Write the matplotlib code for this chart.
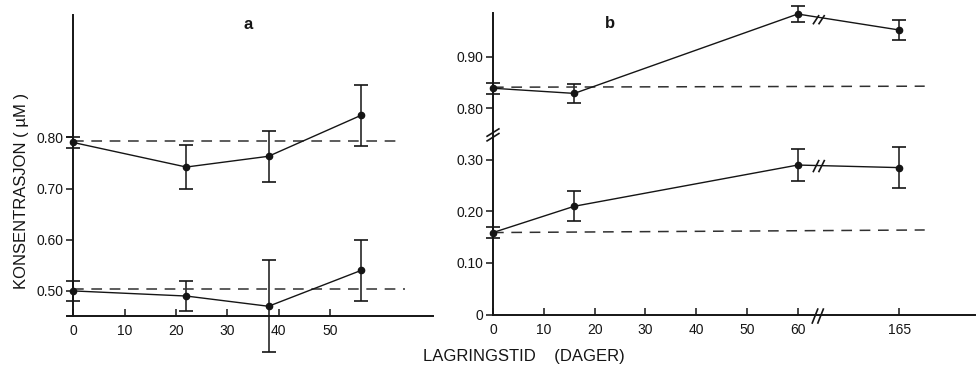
import matplotlib
matplotlib.use("Agg")
import matplotlib.pyplot as plt

plt.rcParams["font.family"] = ["Liberation Sans Narrow", "Liberation Sans", "DejaVu Sans"]

# panel a: storage time (days), two concentration series with sd
xa = [0, 22, 38, 56]
a_hi = [0.790, 0.742, 0.763, 0.843]
a_hi_err = [0.010, 0.043, 0.050, 0.060]
a_lo = [0.500, 0.490, 0.470, 0.540]
a_lo_err = [0.020, 0.030, 0.090, 0.060]
a_ref_x = [[0, 63.6], [0, 64.6]]
a_ref_y = [[0.793, 0.793], [0.503, 0.503]]
a_yticks = [0.50, 0.60, 0.70, 0.80]
a_xticks = [0, 10, 20, 30, 40, 50]

# panel b: x axis broken after 60 days, y axis broken between 0.30 and 0.80
xb = [0, 16, 60, 80]          # 80 = position of 165 d on the broken axis
b_hi = [0.839, 0.829, 0.983, 0.952]
b_hi_err = [0.011, 0.019, 0.015, 0.020]
b_lo = [0.159, 0.210, 0.290, 0.285]
b_lo_err = [0.010, 0.029, 0.031, 0.040]
b_ref_x = [0, 85]
b_ref_hi = [0.841, 0.843]
b_ref_lo = [0.159, 0.164]
B_SHIFT = 0.40                # upper block drawn 0.40 lower
b_xticks = [0, 10, 20, 30, 40, 50, 60, 80]
b_xlabels = ["0", "10", "20", "30", "40", "50", "60", "165"]
b_yvals = [0, 0.10, 0.20, 0.30, 0.80, 0.90]
b_ylabels = ["0", "0.10", "0.20", "0.30", "0.80", "0.90"]

INK = "#151515"
W, H = 980, 372
fig = plt.figure(figsize=(9.8, 3.72), dpi=100)


def rect(l, r, t, b):
    return [l / W, 1 - b / H, (r - l) / W, (b - t) / H]


def style(ax):
    for s in ("top", "right"):
        ax.spines[s].set_visible(False)
    for s in ("left", "bottom"):
        ax.spines[s].set_linewidth(1.4)
        ax.spines[s].set_color(INK)
    ax.tick_params(axis="x", direction="in", length=5, width=1.1, pad=6,
                   labelsize=10, colors=INK)
    ax.tick_params(axis="y", direction="out", length=5, width=1.1, pad=2,
                   labelsize=10, colors=INK)


def series(ax, x, y, e):
    c = ax.errorbar(x, y, yerr=e, fmt="o-", color=INK, lw=1.0, ms=4.5,
                    capsize=5, capthick=1.2, elinewidth=1.1)
    for art in c.get_children():
        art.set_clip_on(False)


# ---- a
ax = fig.add_axes(rect(67, 433, 15, 316))
style(ax)
ax.set_xlim(-1.2, 70)
ax.set_ylim(0.451, 1.039)
ax.spines["left"].set_position(("data", 0))
series(ax, xa, a_hi, a_hi_err)
series(ax, xa, a_lo, a_lo_err)
for rx, ry in zip(a_ref_x, a_ref_y):
    ax.plot(rx, ry, ls=(0, (7, 5)), color="#303030", lw=1.1)
ax.set_xticks(a_xticks)
ax.set_yticks(a_yticks)
ax.set_yticklabels([f"{v:.2f}" for v in a_yticks])
ax.text(34, 1.02, "a", ha="center", va="center", fontsize=12,
        fontweight="bold", color=INK)

# ---- b
bx = fig.add_axes(rect(493, 975, 13, 314.5))
style(bx)
bx.set_xlim(0, 94.9)
bx.set_ylim(0, 0.585)
series(bx, xb, [v - B_SHIFT for v in b_hi], b_hi_err)
series(bx, xb, b_lo, b_lo_err)
bx.plot(b_ref_x, [v - B_SHIFT for v in b_ref_hi], ls=(0, (7, 5)), color="#303030", lw=1.1)
bx.plot(b_ref_x, b_ref_lo, ls=(0, (7, 5)), color="#303030", lw=1.1)
bx.set_xticks(b_xticks)
bx.set_xticklabels(b_xlabels)
bx.set_yticks([v if v < 0.5 else v - B_SHIFT for v in b_yvals])
bx.set_yticklabels(b_ylabels)
bx.text(23, 0.565, "b", ha="center", va="center", fontsize=12,
        fontweight="bold", color=INK)

# break marks "//"
kw = dict(color=INK, lw=1.2, clip_on=False, solid_capstyle="butt")
for dy in (0, 0.009):
    bx.plot([-1.3, 1.3], [0.336 + dy, 0.352 + dy], **kw)          # y axis
for dx in (0, 1.1):
    bx.plot([62.8 + dx, 64.0 + dx], [-0.018, 0.012], **kw)        # x axis
    bx.plot([63.0 + dx, 64.2 + dx], [0.563, 0.593 - 0.012], **kw)  # upper curve
    bx.plot([63.0 + dx, 64.2 + dx], [0.276, 0.300], **kw)         # lower curve

fig.text(22 / W, 1 - 191 / H, "KONSENTRASJON ( µM )", rotation=90,
         ha="center", va="center", fontsize=12, color=INK)
fig.text(524 / W, 1 - 357 / H, "LAGRINGSTID    (DAGER)", ha="center",
         va="center", fontsize=12, color=INK,
         family=["Liberation Sans", "DejaVu Sans"])

fig.savefig("out.png", dpi=100)
